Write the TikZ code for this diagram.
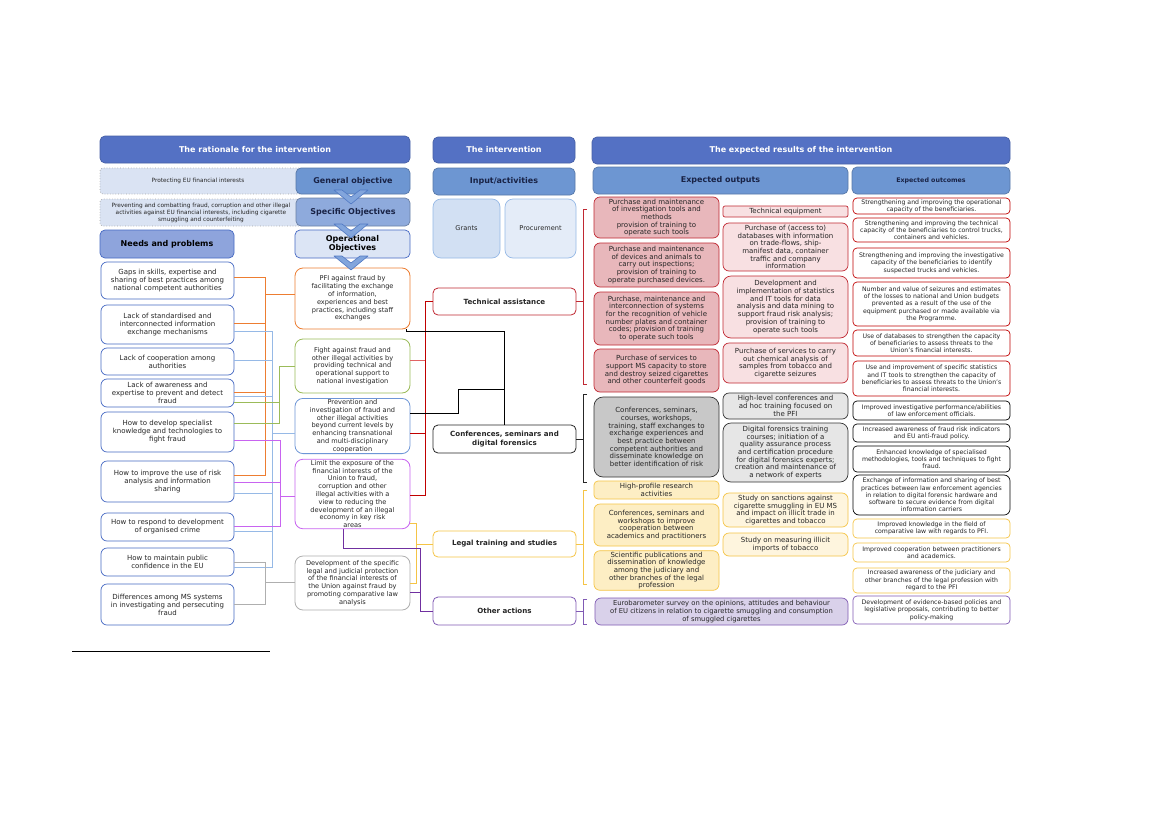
\documentclass[tikz,border=0pt]{standalone}
\usepackage{fontspec}
\setmainfont{DejaVu Sans}
\usetikzlibrary{calc}
\definecolor{hdr}{RGB}{84,113,196}
\definecolor{midb}{RGB}{109,150,210}
\definecolor{specb}{RGB}{142,170,220}
\definecolor{needsh}{RGB}{142,164,220}
\definecolor{opfill}{RGB}{220,229,245}
\definecolor{dotfill}{RGB}{218,227,243}
\definecolor{grantf}{RGB}{210,224,243}
\definecolor{procf}{RGB}{228,236,248}
\definecolor{navy}{RGB}{25,35,70}
\definecolor{needb}{RGB}{70,105,195}
\definecolor{redb}{RGB}{192,40,50}
\definecolor{redf}{RGB}{232,183,187}
\definecolor{redl}{RGB}{248,224,226}
\definecolor{greyd}{RGB}{200,200,200}
\definecolor{greyl}{RGB}{230,230,230}
\definecolor{yelb}{RGB}{245,196,70}
\definecolor{yelf}{RGB}{253,238,196}
\definecolor{yell}{RGB}{254,245,222}
\definecolor{purb}{RGB}{128,90,180}
\definecolor{purf}{RGB}{217,209,234}
\definecolor{cor}{RGB}{237,125,49}
\definecolor{cgr}{RGB}{155,187,89}
\definecolor{cbl}{RGB}{110,150,215}
\definecolor{clb}{RGB}{150,185,230}
\definecolor{cmg}{RGB}{200,100,240}
\definecolor{cgy}{RGB}{175,175,175}
\definecolor{cred}{RGB}{192,0,0}
\definecolor{cpk}{RGB}{225,100,100}
\definecolor{cpu}{RGB}{112,48,160}
\definecolor{chevf}{RGB}{130,165,220}
\definecolor{chevd}{RGB}{80,120,195}
\newcommand\mybox[7]{%
  \pgfmathsetmacro\mbw{#4-#2}%
  \pgfmathsetmacro\mbh{#5-#3}%
  \node[#6,minimum width=\mbw pt,minimum height=\mbh pt] (#1) at ({(#2+#4)/2},{(#3+#5)/2}) {#7};}
\newcommand\mychev[1]{%
  \filldraw[fill=chevf,draw=chevd,line width=0.6pt,line join=round] (334,#1) -- (351,#1+14) -- (368,#1) -- (360,#1) -- (351,#1+7) -- (342,#1) -- cycle;}
\tikzset{
  base/.style={rounded corners=4pt, align=center, inner sep=1pt, line width=0.7pt, text=black!85},
  hbar/.style={base, fill=hdr, draw=hdr!85!black, text=white, font=\fontsize{8}{9}\selectfont\bfseries, rounded corners=5pt},
  mbar/.style={base, fill=midb, draw=midb!80!black, text=navy, font=\fontsize{8}{9}\selectfont\bfseries, rounded corners=5pt},
  dotbox/.style={base, fill=dotfill, draw=gray!70, dotted, rounded corners=3pt, font=\fontsize{5.8}{7}\selectfont},
  need/.style={base, draw=needb, fill=white, font=\fontsize{7}{8}\selectfont, rounded corners=6pt},
  obj/.style={base, fill=white, font=\fontsize{6.6}{7.8}\selectfont, rounded corners=8pt, line width=0.8pt},
  act/.style={base, fill=white, font=\fontsize{7.1}{8.4}\selectfont\bfseries, rounded corners=5pt, line width=0.8pt},
  outp/.style={base, font=\fontsize{7}{7.7}\selectfont, rounded corners=6pt},
  outc/.style={base, fill=white, font=\fontsize{6.2}{7.3}\selectfont, rounded corners=4pt},
  ln/.style={line width=0.8pt},
}
\begin{document}
\begin{tikzpicture}[x=1pt,y=-1pt]
\useasboundingbox (0,0) rectangle (1169,827);
\fill[white] (0,0) rectangle (1169,827);

% ---------- headers ----------
\mybox{hR}{100}{136}{410}{163}{hbar}{The rationale for the intervention}
\mybox{hI}{433}{137}{575}{163}{hbar}{The intervention}
\mybox{hE}{592}{137}{1010}{164}{hbar}{The expected results of the intervention}

\mybox{d1}{100}{168}{302}{194}{dotbox}{Protecting EU financial interests\hspace*{6pt}}
\mybox{d2}{100}{199}{302}{226}{dotbox}{Preventing and combatting fraud, corruption and other illegal\\activities against EU financial interests, including cigarette\\smuggling and counterfeiting}
\mybox{gen}{296}{168}{410}{194}{mbar}{General objective}
\mybox{spe}{296}{198}{410}{226}{mbar,fill=specb,draw=specb!75!black}{Specific Objectives}
\mybox{nph}{100}{230}{234}{258}{mbar,fill=needsh,draw=needb,text=black}{Needs and problems}
\mybox{opo}{295}{230}{410}{258}{mbar,fill=opfill,draw=needb,text=black}{Operational\\Objectives}

\mybox{inp}{433}{168}{575}{195}{mbar}{Input/activities}
\mybox{grn}{433}{199}{500}{258}{base,fill=grantf,draw=clb,rounded corners=8pt,font=\fontsize{6.6}{8}\selectfont}{Grants}
\mybox{prc}{505}{199}{576}{258}{base,fill=procf,draw=clb,rounded corners=8pt,font=\fontsize{6.6}{8}\selectfont}{Procurement}
\mybox{hO}{593}{167}{848}{194}{mbar}{Expected outputs}
\mybox{hC}{852}{167}{1010}{194}{mbar,font=\fontsize{6.3}{7.5}\selectfont\bfseries}{Expected outcomes}

% ---------- needs ----------
\mybox{n1}{101}{262}{234}{299}{need}{Gaps in skills, expertise and\\sharing of best practices among\\national competent authorities}
\mybox{n2}{101}{305}{234}{344}{need}{Lack of standardised and\\interconnected information\\exchange mechanisms}
\mybox{n3}{101}{348}{234}{375}{need}{Lack of cooperation among\\authorities}
\mybox{n4}{101}{379}{234}{407}{need}{Lack of awareness and\\expertise to prevent and detect\\fraud}
\mybox{n5}{101}{412}{234}{452}{need}{How to develop specialist\\knowledge and technologies to\\fight fraud}
\mybox{n6}{101}{461}{234}{502}{need}{How to improve the use of risk\\analysis and information\\sharing}
\mybox{n7}{101}{513}{234}{541}{need}{How to respond to development\\of organised crime}
\mybox{n8}{101}{548}{234}{576}{need}{How to maintain public\\confidence in the EU}
\mybox{n9}{101}{584}{234}{625}{need}{Differences among MS systems\\in investigating and persecuting\\fraud}

% ---------- operational objectives ----------
\mybox{o1}{295}{268}{410}{329}{obj,draw=cor}{PFI against fraud by\\facilitating the exchange\\of information,\\experiences and best\\practices, including staff\\exchanges}
\mybox{o2}{295}{339}{410}{393}{obj,draw=cgr}{Fight against fraud and\\other illegal activities by\\providing technical and\\operational support to\\national investigation}
\mybox{o3}{295}{399}{410}{453}{obj,draw=cbl}{Prevention and\\investigation of fraud and\\other illegal activities\\beyond current levels by\\enhancing transnational\\and multi-disciplinary\\cooperation}
\mybox{o4}{295}{460}{410}{528}{obj,draw=cmg}{Limit the exposure of the\\financial interests of the\\Union to fraud,\\corruption and other\\illegal activities with a\\view to reducing the\\development of an illegal\\economy in key risk\\areas}
\mybox{o5}{295}{556}{410}{610}{obj,draw=cgy}{Development of the specific\\legal and judicial protection\\of the financial interests of\\the Union against fraud by\\promoting comparative law\\analysis}

% ---------- activities ----------
\mybox{tech}{433}{288}{576}{315}{act,draw=redb}{Technical assistance}
\mybox{conf}{433}{425}{576}{453}{act,draw=black!85}{Conferences, seminars and\\digital forensics}
\mybox{legal}{433}{531}{576}{557}{act,draw=yelb}{Legal training and studies}
\mybox{other}{433}{597}{576}{625}{act,draw=purb}{Other actions}

% ---------- outputs ----------
\mybox{a1}{594}{197}{719}{238}{outp,fill=redf,draw=redb}{Purchase and maintenance\\of investigation tools and\\methods\\provision of training to\\operate such tools}
\mybox{a2}{594}{243}{719}{287}{outp,fill=redf,draw=redb}{Purchase and maintenance\\of devices and animals to\\carry out inspections;\\provision of training to\\operate purchased devices.}
\mybox{a3}{594}{292}{719}{345}{outp,fill=redf,draw=redb}{Purchase, maintenance and\\interconnection of systems\\for the recognition of vehicle\\number plates and container\\codes; provision of training\\to operate such tools}
\mybox{a4}{594}{349}{719}{392}{outp,fill=redf,draw=redb}{Purchase of services to\\support MS capacity to store\\and destroy seized cigarettes\\and other counterfeit goods}
\mybox{a5}{594}{397}{719}{477}{outp,fill=greyd,draw=black!80,rounded corners=9pt}{Conferences, seminars,\\courses, workshops,\\training, staff exchanges to\\exchange experiences and\\best practice between\\competent authorities and\\disseminate knowledge on\\better identification of risk}
\mybox{a6}{594}{481}{719}{499}{outp,fill=yelf,draw=yelb,rounded corners=4pt}{High-profile research\\activities}
\mybox{a7}{594}{504}{719}{546}{outp,fill=yelf,draw=yelb}{Conferences, seminars and\\workshops to improve\\cooperation between\\academics and practitioners}
\mybox{a8}{594}{551}{719}{590}{outp,fill=yelf,draw=yelb}{Scientific publications and\\dissemination of knowledge\\among the judiciary and\\other branches of the legal\\profession}

\mybox{b1}{723}{206}{848}{217}{outp,fill=redl,draw=redb,rounded corners=2pt}{Technical equipment}
\mybox{b2}{723}{223}{848}{271}{outp,fill=redl,draw=redb}{Purchase of (access to)\\databases with information\\on trade-flows, ship-\\manifest data, container\\traffic and company\\information}
\mybox{b3}{723}{276}{848}{338}{outp,fill=redl,draw=redb,rounded corners=8pt}{Development and\\implementation of statistics\\and IT tools for data\\analysis and data mining to\\support fraud risk analysis;\\provision of training to\\operate such tools}
\mybox{b4}{723}{343}{848}{383}{outp,fill=redl,draw=redb}{Purchase of services to carry\\out chemical analysis of\\samples from tobacco and\\cigarette seizures}
\mybox{b5}{723}{393}{848}{419}{outp,fill=greyl,draw=black!80}{High-level conferences and\\ad hoc training focused on\\the PFI}
\mybox{b6}{723}{423}{848}{482}{outp,fill=greyl,draw=black!80,rounded corners=8pt}{Digital forensics training\\courses; initiation of a\\quality assurance process\\and certification procedure\\for digital forensics experts;\\creation and maintenance of\\a network of experts}
\mybox{b7}{723}{493}{848}{527}{outp,fill=yell,draw=yelb}{Study on sanctions against\\cigarette smuggling in EU MS\\and impact on illicit trade in\\cigarettes and tobacco}
\mybox{b8}{723}{533}{848}{556}{outp,fill=yell,draw=yelb}{Study on measuring illicit\\imports of tobacco}
\mybox{eb}{595}{598}{848}{625}{outp,fill=purf,draw=purb,font=\fontsize{6.8}{7.7}\selectfont}{Eurobarometer survey on the opinions, attitudes and behaviour\\of EU citizens in relation to cigarette smuggling and consumption\\of smuggled cigarettes}

% ---------- outcomes ----------
\mybox{c1}{853}{198}{1010}{214}{outc,draw=cred}{Strengthening and improving the operational\\capacity of the beneficiaries.}
\mybox{c2}{853}{218}{1010}{242}{outc,draw=cred}{Strengthening and improving the technical\\capacity of the beneficiaries to control trucks,\\containers and vehicles.}
\mybox{c3}{853}{248}{1010}{278}{outc,draw=cred}{Strengthening and improving the investigative\\capacity of the beneficiaries to identify\\suspected trucks and vehicles.}
\mybox{c4}{853}{282}{1010}{326}{outc,draw=cred}{Number and value of seizures and estimates\\of the losses to national and Union budgets\\prevented as a result of the use of the\\equipment purchased or made available via\\the Programme.}
\mybox{c5}{853}{330}{1010}{356}{outc,draw=cred}{Use of databases to strengthen the capacity\\of beneficiaries to assess threats to the\\Union's financial interests.}
\mybox{c6}{853}{361}{1010}{396}{outc,draw=cred}{Use and improvement of specific statistics\\and IT tools to strengthen the capacity of\\beneficiaries to assess threats to the Union's\\financial interests.}
\mybox{c7}{853}{401}{1010}{420}{outc,draw=black}{Improved investigative performance/abilities\\of law enforcement officials.}
\mybox{c8}{853}{424}{1010}{442}{outc,draw=black}{Increased awareness of fraud risk indicators\\and EU anti-fraud policy.}
\mybox{c9}{853}{446}{1010}{472}{outc,draw=black}{Enhanced knowledge of specialised\\methodologies, tools and techniques to fight\\fraud.}
\mybox{c10}{853}{475}{1010}{515}{outc,draw=black,rounded corners=6pt}{Exchange of information and sharing of best\\practices between law enforcement agencies\\in relation to digital forensic hardware and\\software to secure evidence from digital\\information carriers}
\mybox{c11}{853}{519}{1010}{538}{outc,draw=yelb}{Improved knowledge in the field of\\comparative law with regards to PFI.}
\mybox{c12}{853}{543}{1010}{562}{outc,draw=yelb}{Improved cooperation between practitioners\\and academics.}
\mybox{c13}{853}{568}{1010}{593}{outc,draw=yelb}{Increased awareness of the judiciary and\\other branches of the legal profession with\\regard to the PFI}
\mybox{c14}{853}{596}{1010}{624}{outc,draw=purb}{Development of evidence-based policies and\\legislative proposals, contributing to better\\policy-making}

% ---------- chevrons ----------
\mychev{190}
\mychev{224}
\mychev{256}

% ---------- left connectors ----------
\foreach \n/\y in {n1/277,n2/323,n4/392,n6/475}
  \draw[ln,cor] (\n.east|-0,\y) -| (265,294) -- (o1.west|-0,294);
\foreach \n/\y in {n2/331,n3/360,n4/396,n6/493,n7/531,n8/567}
  \draw[ln,clb] (\n.east|-0,\y) -| (272,433) -- (o3.west|-0,433);
\foreach \n/\y in {n4/402,n5/423}
  \draw[ln,cgr] (\n.east|-0,\y) -| (279,366) -- (o2.west|-0,366);
\foreach \n/\y in {n5/440,n6/482,n7/526}
  \draw[ln,cmg] (\n.east|-0,\y) -| (280,496) -- (o4.west|-0,496);
\foreach \n/\y in {n8/562,n9/604}
  \draw[ln,cgy] (\n.east|-0,\y) -| (265,582) -- (o5.west|-0,582);

% ---------- middle connectors ----------
\draw[ln,cpk] (o2.east|-0,360) -| (425,301) -- (tech.west|-0,301);
\foreach \y in {433,495}
  \draw[ln,cred] (o3.east|-0,\y) -| (425,301) -- (tech.west|-0,301);
\draw[ln,black] (o1.south-|406.5,0) -- (406.5,331) -| (conf.north);
\draw[ln,black] (o3.east|-0,413) -| (458,389) -| (conf.north);
\foreach \y in {523,583}
  \draw[ln,yelb] (o4.east|-0,\y) -| (416,544) -- (legal.west|-0,544);
\draw[ln,cpu] (o4.south-|343,0) |- (420,548) |- (other.west);
\draw[ln,cpu] (o5.east|-0,592) -| (420,611) -- (other.west|-0,611);

% ---------- brackets ----------
\draw[ln,redb] (587,209) -- (583,209) -- (583,384) -- (587,384);
\draw[ln,redb] (tech.east) -- (tech.east-|583,0);
\draw[ln,black!85] (587,394) -- (583,394) -- (583,482) -- (587,482);
\draw[ln,black!85] (conf.east) -- (conf.east-|583,0);
\draw[ln,yelb] (587,490) -- (583,490) -- (583,584) -- (587,584);
\draw[ln,yelb] (legal.east) -- (legal.east-|583,0);
\draw[ln,purb] (587,599) -- (583,599) -- (583,624) -- (587,624);
\draw[ln,purb] (other.east) -- (other.east-|583,0);

% footnote rule
\draw[line width=0.6pt] (72,651) -- (270,651);
\end{tikzpicture}
\end{document}
